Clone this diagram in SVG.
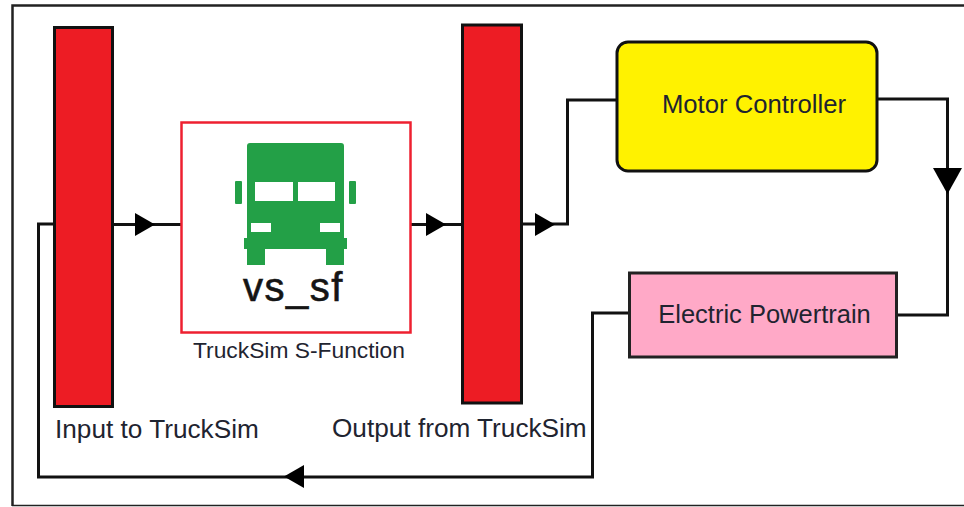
<svg xmlns="http://www.w3.org/2000/svg" width="964" height="507" viewBox="0 0 964 507">
<style>
text{font-family:"Liberation Sans",Arial,sans-serif;fill:#1f2430}
.w{fill:none;stroke:#111;stroke-width:3}
.bar{fill:#ed1c24;stroke:#111;stroke-width:3}
.a{fill:#000}
.t{fill:#23a047}
.h{fill:#fff}
</style>
<rect x="0" y="0" width="964" height="507" fill="#fff"/>
<path d="M12.500 506V5.500H964" fill="none" stroke="#222" stroke-width="2.500"/>
<path d="M12 505.500H964" fill="none" stroke="#222" stroke-width="1.500"/>
<g id="connectors">
<path class="w" d="M55 224H38.500V477H592.500V313H630"/>
<path class="w" d="M113 224.500H182"/>
<path class="w" d="M411 224.500H463"/>
<path class="w" d="M522 224H567.500V100H617"/>
<path class="w" d="M877 99H947.500V315H897"/>
<polygon class="a" points="135,213 155,224.500 135,236"/>
<polygon class="a" points="426,213 446,224.500 426,236"/>
<polygon class="a" points="535,213 555,224.500 535,236"/>
<polygon class="a" points="933,168 962,168 947.500,194"/>
<polygon class="a" points="304,465 304,488 284,476.500"/>
</g>
<g id="input-to-trucksim">
<rect class="bar" x="54.500" y="27.500" width="58" height="379"/>
<text x="55" y="438" font-size="26.200">Input to TruckSim</text>
</g>
<g id="vs-sf">
<rect x="181.500" y="122.500" width="229" height="210" fill="#fff" stroke="#ee2030" stroke-width="2.500"/>
<path class="t" d="M247 146Q247 143 250 143H341Q344 143 344 146V238H347V249H344V265H326V249H265V265H247V249H244V238H247Z"/>
<rect class="t" x="235" y="181" width="7" height="23" rx="1"/>
<rect class="t" x="349" y="181" width="7" height="23" rx="1"/>
<rect class="h" x="255" y="182" width="38" height="19"/>
<rect class="h" x="298" y="182" width="37" height="19"/>
<rect class="h" x="251" y="223" width="20" height="9"/>
<rect class="h" x="320" y="223" width="20" height="9"/>
<text x="243" y="301" font-size="40" letter-spacing="1.500" style="fill:#151515;stroke:#151515;stroke-width:.6">vs_sf</text>
<text x="299" y="358" font-size="22.800" text-anchor="middle">TruckSim S-Function</text>
</g>
<g id="output-from-trucksim">
<rect class="bar" x="462.500" y="25" width="59" height="378"/>
<text x="332" y="437" font-size="26.200">Output from TruckSim</text>
</g>
<g id="motor-controller">
<rect x="617" y="42" width="260" height="129" rx="11" fill="#fff200" stroke="#111" stroke-width="3"/>
<text x="754" y="113" font-size="25.700" text-anchor="middle">Motor Controller</text>
</g>
<g id="electric-powertrain">
<rect x="629.500" y="273" width="267" height="84" fill="#ffa9c7" stroke="#222" stroke-width="3"/>
<text x="764.500" y="323" font-size="25.500" text-anchor="middle">Electric Powertrain</text>
</g>
</svg>
